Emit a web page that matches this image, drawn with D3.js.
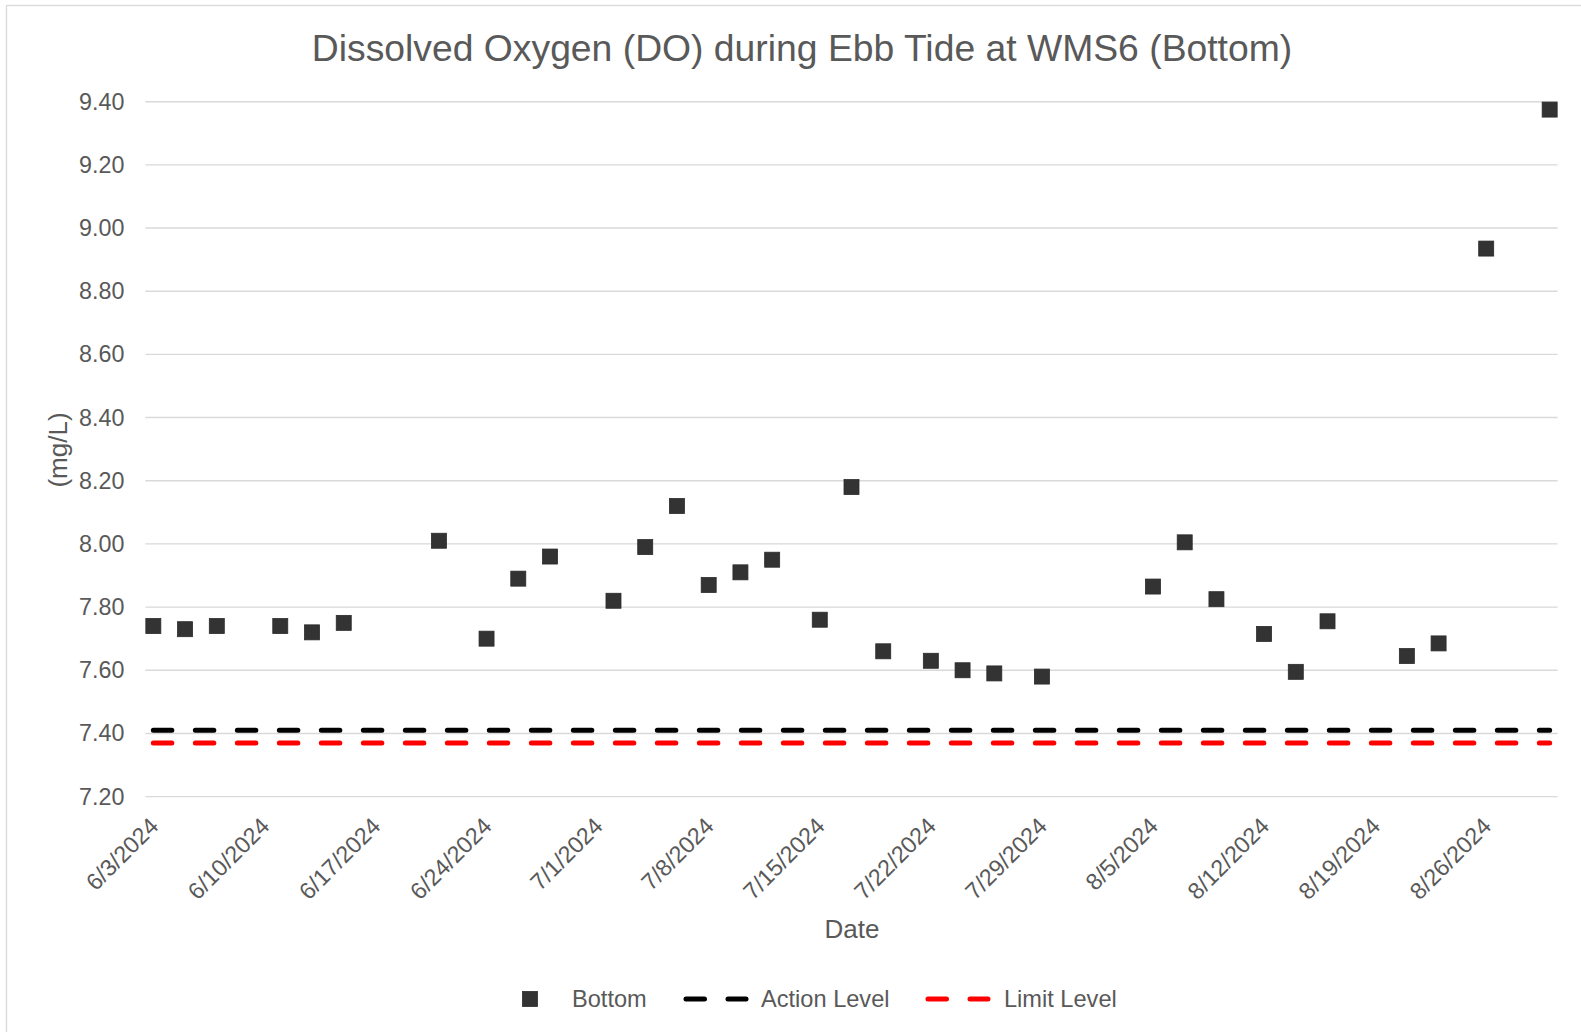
<!DOCTYPE html>
<html>
<head>
<meta charset="utf-8">
<script src="https://cdn.jsdelivr.net/npm/d3@7"></script>
<style>
  html, body { margin: 0; padding: 0; background: #fff; }
  svg { display: block; font-family: "Liberation Sans", Arial, sans-serif; }
</style>
</head>
<body>
<svg id="chart" width="1581" height="1032"></svg>
<script>
// ---- data ----
const dates = ["6/3/2024","6/5/2024","6/7/2024","6/11/2024","6/13/2024","6/15/2024",
  "6/21/2024","6/24/2024","6/26/2024","6/28/2024",
  "7/2/2024","7/4/2024","7/6/2024","7/8/2024","7/10/2024","7/12/2024","7/15/2024","7/17/2024",
  "7/19/2024","7/22/2024","7/24/2024","7/26/2024","7/29/2024",
  "8/5/2024","8/7/2024","8/9/2024","8/12/2024","8/14/2024","8/16/2024","8/21/2024","8/23/2024",
  "8/26/2024","8/30/2024"];
const bottom = [7.74,7.73,7.74,7.74,7.72,7.75,
  8.01,7.70,7.89,7.96,
  7.82,7.99,8.12,7.87,7.91,7.95,7.76,8.18,
  7.66,7.63,7.60,7.59,7.58,
  7.865,8.005,7.825,7.715,7.595,7.755,7.645,7.685,
  8.935,9.375];
const actionLevel = 7.41;
const limitLevel = 7.37;
const xTickLabels = ["6/3/2024","6/10/2024","6/17/2024","6/24/2024","7/1/2024","7/8/2024",
  "7/15/2024","7/22/2024","7/29/2024","8/5/2024","8/12/2024","8/19/2024","8/26/2024"];
const yTicks = [7.20,7.40,7.60,7.80,8.00,8.20,8.40,8.60,8.80,9.00,9.20,9.40];
const seriesNames = ["Bottom","Action Level","Limit Level"];

// ---- helpers ----
const parse = d3.timeParse("%m/%d/%Y");
const DAY = 864e5;
const pts = dates.map((d, i) => ({ date: parse(d), v: bottom[i] }));
const first = pts[0].date, last = pts[pts.length - 1].date;

const svg = d3.select("#chart");
const textColor = "#595959";
const gridColor = "#d9d9d9";

// chart border
svg.append("rect").attr("x", 6.5).attr("y", 5.5).attr("width", 1600).attr("height", 1100)
  .attr("fill", "#fff").attr("stroke", "#d9d9d9").attr("stroke-width", 1.3);

const x = d3.scaleTime()
  .domain([new Date(+first - DAY / 2), new Date(+last + DAY / 2)])
  .range([145.4, 1557.6]);
const y = d3.scaleLinear().domain([7.2, 9.4]).range([796.6, 101.7]);

// gridlines
svg.append("g").selectAll("line").data(yTicks).join("line")
  .attr("x1", x.range()[0]).attr("x2", x.range()[1])
  .attr("y1", d => y(d)).attr("y2", d => y(d))
  .attr("stroke", gridColor).attr("stroke-width", 1.4);

// y axis
const yAxis = svg.append("g").attr("transform", `translate(${x.range()[0]},0)`)
  .call(d3.axisLeft(y).tickValues(yTicks).tickFormat(d3.format(".2f")).tickSize(0).tickPadding(21));
yAxis.select(".domain").remove();
yAxis.selectAll("text").attr("fill", textColor).style("font-size", "23.3px")
  .style("font-family", '"Liberation Sans", Arial, sans-serif');

// x axis
const xAxis = svg.append("g").attr("transform", `translate(0,${y(7.2)})`)
  .call(d3.axisBottom(x).tickValues(xTickLabels.map(parse)).tickFormat(d3.timeFormat("%-m/%-d/%Y")).tickSize(0));
xAxis.select(".domain").remove();
xAxis.selectAll("text")
  .attr("fill", textColor).style("font-size", "23.3px")
  .style("font-family", '"Liberation Sans", Arial, sans-serif')
  .attr("text-anchor", "end").attr("dy", null).attr("y", 0)
  .attr("transform", "translate(6,31) rotate(-45)");

// level lines
const levelLine = (val, color) => svg.append("line")
  .attr("x1", x(first)).attr("x2", x(last)).attr("y1", y(val)).attr("y2", y(val))
  .attr("stroke", color).attr("stroke-width", 5).attr("stroke-linecap", "round")
  .attr("stroke-dasharray", "18.5,23.5");
levelLine(actionLevel, "#000000");
levelLine(limitLevel, "#ff0000");

// markers
const ms = 15;
svg.append("g").selectAll("rect").data(pts).join("rect")
  .attr("x", d => x(d.date) - ms / 2).attr("y", d => y(d.v) - ms / 2)
  .attr("width", ms).attr("height", ms)
  .attr("fill", "#333333").attr("stroke", "#2b2b2b").attr("stroke-width", 0.8);

// title
svg.append("text").attr("x", 802).attr("y", 61).attr("text-anchor", "middle")
  .attr("fill", textColor).style("font-size", "37.3px").text("Dissolved Oxygen (DO) during Ebb Tide at WMS6 (Bottom)");

// axis titles
svg.append("text").attr("x", 852).attr("y", 938).attr("text-anchor", "middle")
  .attr("fill", textColor).style("font-size", "26px").text("Date");
svg.append("text").attr("transform", "translate(67,450) rotate(-90)").attr("text-anchor", "middle")
  .attr("fill", textColor).style("font-size", "26px").text("(mg/L)");

// legend
const ly = 999;
const lg = svg.append("g");
lg.append("rect").attr("x", 530 - ms / 2).attr("y", ly - ms / 2).attr("width", ms).attr("height", ms)
  .attr("fill", "#333333").attr("stroke", "#2b2b2b").attr("stroke-width", 0.8);
lg.append("text").attr("x", 572).attr("y", ly + 8.3).attr("fill", textColor).style("font-size", "23.6px").text(seriesNames[0]);
const legLine = (x0, color) => lg.append("line").attr("x1", x0 + 2.5).attr("x2", x0 + 62.5)
  .attr("y1", ly).attr("y2", ly).attr("stroke", color).attr("stroke-width", 5)
  .attr("stroke-linecap", "round").attr("stroke-dasharray", "18.5,23.5");
legLine(683.5, "#000000");
lg.append("text").attr("x", 761).attr("y", ly + 8.3).attr("fill", textColor).style("font-size", "23.6px").text(seriesNames[1]);
legLine(925.5, "#ff0000");
lg.append("text").attr("x", 1004).attr("y", ly + 8.3).attr("fill", textColor).style("font-size", "23.6px").text(seriesNames[2]);
</script>
</body>
</html>
